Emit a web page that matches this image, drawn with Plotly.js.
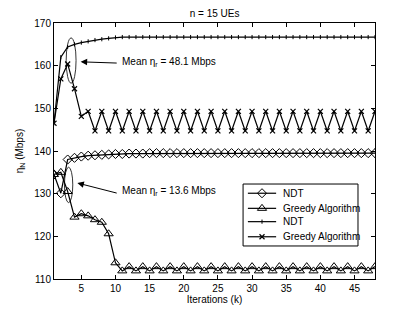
<!DOCTYPE html>
<html>
<head>
<meta charset="utf-8">
<script src="https://cdn.plot.ly/plotly-3.0.1.min.js"></script>
<style>html,body{margin:0;padding:0;background:#fff;}#chart{width:415px;height:312px;}</style>
</head>
<body>
<div id="chart"></div>
<script>
const iterations = Array.from({length: 48}, (_, i) => i + 1);

const ndtLow = [134.5, 130.1, 138.0, 138.4, 138.7, 138.9, 139.0, 139.1, 139.2, 139.3,
  139.3, 139.4, 139.4, 139.4, 139.5, 139.5, 139.5, 139.5, 139.5, 139.5,
  139.5, 139.5, 139.5, 139.5, 139.5, 139.5, 139.5, 139.5, 139.5, 139.5,
  139.5, 139.5, 139.5, 139.5, 139.5, 139.5, 139.5, 139.5, 139.5, 139.5,
  139.5, 139.5, 139.5, 139.5, 139.5, 139.5, 139.5, 139.5];

const greedyLow = [134.5, 135.0, 130.5, 124.5, 125.3, 124.8, 123.9, 123.3, 120.6, 113.8,
  111.9, 112.9, 111.9, 112.9, 111.9, 112.9, 111.9, 112.9, 111.9, 112.9,
  111.9, 112.9, 111.9, 112.9, 111.9, 112.9, 111.9, 112.9, 111.9, 112.9,
  111.9, 112.9, 111.9, 112.9, 111.9, 112.9, 111.9, 112.9, 111.9, 112.9,
  111.9, 112.9, 111.9, 112.9, 111.9, 112.9, 111.9, 112.9];

const ndtHigh = [146.5, 162.0, 164.4, 165.0, 165.4, 165.7, 166.0, 166.2, 166.4, 166.6,
  166.7, 166.7, 166.7, 166.7, 166.7, 166.7, 166.7, 166.7, 166.7, 166.7,
  166.7, 166.7, 166.7, 166.7, 166.7, 166.7, 166.7, 166.7, 166.7, 166.7,
  166.7, 166.7, 166.7, 166.7, 166.7, 166.7, 166.7, 166.7, 166.7, 166.7,
  166.7, 166.7, 166.7, 166.7, 166.7, 166.7, 166.7, 166.7];

const greedyHigh = [146.5, 156.9, 160.4, 154.6, 148.1, 149.3, 144.7, 149.3, 144.7, 149.3,
  144.7, 149.3, 144.7, 149.3, 144.7, 149.3, 144.7, 149.3, 144.7, 149.3,
  144.7, 149.3, 144.7, 149.3, 144.7, 149.3, 144.7, 149.3, 144.7, 149.3,
  144.7, 149.3, 144.7, 149.3, 144.7, 149.3, 144.7, 149.3, 144.7, 149.3,
  144.7, 149.3, 144.7, 149.3, 144.7, 149.3, 144.7, 149.3];

const seriesNames = ['NDT', 'Greedy Algorithm', 'NDT', 'Greedy Algorithm'];
const xTicks = [5, 10, 15, 20, 25, 30, 35, 40, 45];
const yTicks = [110, 120, 130, 140, 150, 160, 170];
const meanHigh = 'Mean η<sub>r</sub> = 48.1 Mbps';
const meanLow = 'Mean η<sub>r</sub> = 13.6 Mbps';

const lineStyle = {color: '#000', width: 1.2};
const markers = [
  {symbol: 'diamond-open', size: 7, color: '#000', line: {width: 1}},
  {symbol: 'triangle-up-open', size: 8, color: '#000', line: {width: 1}},
  {symbol: 'line-ns-open', size: 3, color: '#000', line: {width: 1}},
  {symbol: 'x-thin-open', size: 5, color: '#000', line: {width: 1.2}}
];
const seriesData = [ndtLow, greedyLow, ndtHigh, greedyHigh];

const traces = seriesData.map((ys, i) => ({
  x: iterations, y: ys, name: seriesNames[i], mode: 'lines+markers',
  line: lineStyle, marker: markers[i], showlegend: false
}));

// Custom legend (drawn in an overlay 0..1 frame matching the plot area)
const legRowY = [0.335, 0.276, 0.224, 0.165];
const legLineX = [0.604, 0.692];
const legMarkX = 0.648;
const legTextX = 0.707;
legRowY.forEach((ry, i) => {
  traces.push({
    x: [legMarkX], y: [ry], xaxis: 'x2', yaxis: 'y2', mode: 'markers',
    marker: markers[i], showlegend: false, cliponaxis: false, hoverinfo: 'skip'
  });
});

const font = {family: 'Liberation Sans, Arial, sans-serif', size: 10, color: '#000'};

const shapes = [
  {type: 'circle', xref: 'x', yref: 'y', x0: 2.78, x1: 4.23, y0: 155.9, y1: 166.5, line: {color: '#000', width: 0.8}},
  {type: 'circle', xref: 'x', yref: 'y', x0: 2.53, x1: 3.75, y0: 127.9, y1: 136.2, line: {color: '#000', width: 0.8}},
  {type: 'rect', xref: 'x2', yref: 'y2', x0: 0.589, x1: 0.947, y0: 0.129, y1: 0.371,
   line: {color: '#000', width: 1}, fillcolor: '#fff', layer: 'below'}
];
legRowY.forEach(ry => {
  shapes.push({type: 'line', xref: 'x2', yref: 'y2', x0: legLineX[0], x1: legLineX[1], y0: ry, y1: ry,
    line: {color: '#000', width: 1.2}, layer: 'below'});
});

const annotations = [
  {xref: 'x', yref: 'y', axref: 'x', ayref: 'y', x: 4.9, y: 160.9, ax: 10.4, ay: 160.6, text: '',
   showarrow: true, arrowhead: 2, arrowsize: 1.3, arrowwidth: 1, arrowcolor: '#000'},
  {xref: 'x', yref: 'y', x: 10.6, y: 160.8, text: meanHigh, showarrow: false, xanchor: 'left', yanchor: 'middle', font: {size: 10}},
  {xref: 'x', yref: 'y', axref: 'x', ayref: 'y', x: 4.42, y: 132.5, ax: 10.4, ay: 130.05, text: '',
   showarrow: true, arrowhead: 2, arrowsize: 1.3, arrowwidth: 1, arrowcolor: '#000'},
  {xref: 'x', yref: 'y', x: 10.6, y: 130.6, text: meanLow, showarrow: false, xanchor: 'left', yanchor: 'middle', font: {size: 10}}
];
legRowY.forEach((ry, i) => {
  annotations.push({xref: 'x2', yref: 'y2', x: legTextX, y: ry, text: seriesNames[i], showarrow: false,
    xanchor: 'left', yanchor: 'middle', font: {size: 10}});
});

const layout = {
  width: 415, height: 312,
  margin: {l: 54, r: 40, t: 23, b: 33},
  paper_bgcolor: '#fff', plot_bgcolor: '#fff',
  font: font,
  showlegend: false,
  title: {text: 'n = 15 UEs', font: {size: 10, family: font.family}, x: 0.517, xanchor: 'center', y: 0.958, yanchor: 'middle'},
  xaxis: {
    range: [1, 48], tickvals: xTicks, ticks: 'inside', ticklen: 4, tickcolor: '#000',
    showline: true, linecolor: '#000', linewidth: 1, mirror: 'ticks', showgrid: false, zeroline: false,
    title: {text: 'Iterations (k)', font: {size: 10}, standoff: 2}
  },
  yaxis: {
    range: [110, 170], tickvals: yTicks, ticks: 'inside', ticklen: 4, tickcolor: '#000',
    showline: true, linecolor: '#000', linewidth: 1, mirror: 'ticks', showgrid: false, zeroline: false,
    title: {text: 'η<sub>N</sub> (Mbps)', font: {size: 10}, standoff: 8}
  },
  xaxis2: {overlaying: 'x', range: [0, 1], visible: false, anchor: 'y2', fixedrange: true},
  yaxis2: {overlaying: 'y', range: [0, 1], visible: false, anchor: 'x2', fixedrange: true},
  shapes: shapes,
  annotations: annotations
};

Plotly.newPlot('chart', traces, layout, {displayModeBar: false, staticPlot: true});
</script>
</body>
</html>
